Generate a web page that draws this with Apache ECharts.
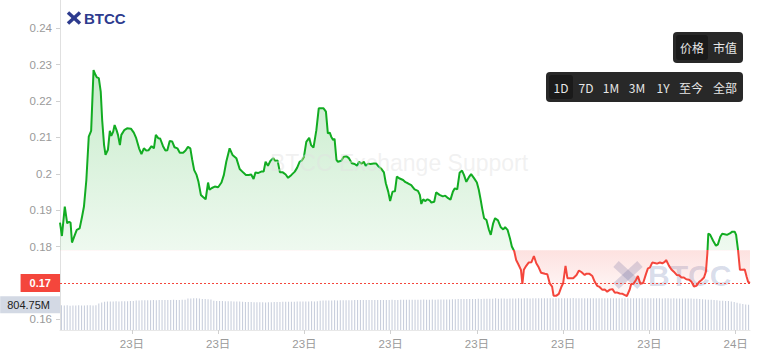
<!DOCTYPE html>
<html><head><meta charset="utf-8">
<script src="https://cdn.jsdelivr.net/npm/echarts@6/dist/echarts.min.js"></script>
<style>html,body{margin:0;padding:0;background:#fff;}#c{width:762px;height:360px;}</style>
</head><body><div id="c"></div>
<script>
// minutes since 23日 00:30
const priceMinutes = [0,4,10,15,19,22,25,31,35,41,46,50,55,60,65,70,74,77,81,85,88,92,95,100,104,107,111,114,118,121,125,128,134,140,148,154,159,165,170,175,180,185,191,196,200,205,209,215,220,224,229,234,239,245,250,257,262,267,272,276,280,285,289,294,298,304,309,312,317,323,330,337,342,347,354,360,368,375,382,388,394,399,404,408,413,420,425,429,434,439,445,449,454,459,465,471,476,483,490,495,500,505,509,514,520,524,529,535,540,545,550,555,559,563,566,570,573,577,580,587,592,598,603,609,615,620,624,629,634,638,643,648,655,660,665,671,676,680,685,689,694,699,703,709,716,721,726,733,740,747,751,754,758,762,767,772,775,781,785,792,799,804,810,815,820,824,829,834,839,843,848,853,858,864,870,874,878,881,885,890,895,899,904,908,914,920,925,929,934,939,943,948,952,957,962,965,968,973,978,984,989,994,999,1004,1012,1017,1022,1027,1030,1036,1041,1046,1050,1055,1059,1064,1071,1078,1083,1088,1095,1098,1105,1111,1116,1121,1126,1132,1137,1142,1147,1153,1158,1162,1168,1174,1178,1183,1189,1192,1197,1202,1206,1211,1217,1223,1227,1231,1236,1241,1246,1252,1257,1262,1265,1271,1276,1281,1287,1292,1297,1302,1307,1313,1318,1323,1328,1334,1339,1344,1348,1351,1353,1357,1363,1369,1373,1378,1382,1387,1392,1398,1403,1408,1411,1415,1419,1424,1429,1433,1436,1440];
const priceValues = [0.1866,0.1829,0.1910,0.1864,0.1868,0.1866,0.1811,0.1832,0.1846,0.1850,0.1882,0.1910,0.1983,0.2102,0.2118,0.2285,0.2272,0.2265,0.2263,0.2226,0.2148,0.2079,0.2052,0.2066,0.2118,0.2104,0.2116,0.2134,0.2120,0.2107,0.2079,0.2107,0.2120,0.2125,0.2124,0.2113,0.2098,0.2070,0.2054,0.2070,0.2064,0.2065,0.2076,0.2070,0.2107,0.2098,0.2097,0.2076,0.2064,0.2065,0.2090,0.2089,0.2073,0.2070,0.2058,0.2058,0.2064,0.2074,0.2070,0.2038,0.2010,0.1997,0.1978,0.1942,0.1937,0.1930,0.1976,0.1956,0.1961,0.1965,0.1963,0.1976,0.1997,0.2033,0.2070,0.2052,0.2043,0.2013,0.2004,0.1997,0.1997,0.1998,0.1986,0.2004,0.2002,0.2006,0.2006,0.2033,0.2022,0.2035,0.2043,0.2035,0.2037,0.2004,0.2004,0.1998,0.1989,0.1997,0.2006,0.2017,0.2033,0.2037,0.2046,0.2088,0.2099,0.2079,0.2072,0.2120,0.2180,0.2180,0.2180,0.2171,0.2111,0.2113,0.2102,0.2093,0.2096,0.2038,0.2033,0.2036,0.2047,0.2048,0.2043,0.2029,0.2027,0.2022,0.2033,0.2028,0.2033,0.2022,0.2028,0.2027,0.2028,0.2028,0.2020,0.2013,0.2004,0.1974,0.1951,0.1925,0.1951,0.1952,0.1992,0.1987,0.1983,0.1977,0.1974,0.1969,0.1957,0.1953,0.1942,0.1917,0.1930,0.1925,0.1930,0.1926,0.1921,0.1923,0.1949,0.1942,0.1938,0.1940,0.1933,0.1929,0.1951,0.1960,0.1957,0.2003,0.2009,0.1997,0.1978,0.1990,0.1999,0.1988,0.1976,0.1956,0.1928,0.1905,0.1878,0.1873,0.1847,0.1832,0.1864,0.1878,0.1872,0.1853,0.1847,0.1853,0.1846,0.1823,0.1800,0.1787,0.1763,0.1750,0.1736,0.1697,0.1736,0.1747,0.1756,0.1757,0.1774,0.1754,0.1743,0.1728,0.1725,0.1724,0.1699,0.1690,0.1665,0.1665,0.1670,0.1688,0.1699,0.1747,0.1713,0.1713,0.1713,0.1722,0.1734,0.1730,0.1722,0.1725,0.1725,0.1719,0.1703,0.1692,0.1689,0.1681,0.1682,0.1676,0.1681,0.1683,0.1673,0.1674,0.1671,0.1670,0.1667,0.1664,0.1682,0.1697,0.1698,0.1708,0.1719,0.1698,0.1700,0.1725,0.1740,0.1742,0.1756,0.1755,0.1753,0.1756,0.1754,0.1758,0.1763,0.1747,0.1737,0.1731,0.1722,0.1721,0.1715,0.1715,0.1710,0.1709,0.1703,0.1690,0.1692,0.1703,0.1708,0.1715,0.1731,0.1781,0.1836,0.1832,0.1816,0.1802,0.1806,0.1827,0.1835,0.1834,0.1832,0.1836,0.1841,0.1841,0.1832,0.1791,0.1736,0.1736,0.1737,0.1717,0.1703,0.1700];
// 24h volume (M), one bar every 6 minutes
const volumeValues = [790,785,792,780,788,784,790,786,782,789,791,786,795,
850,880,
905,910,912,915,918,915,920,922,918,925,928,
945,948,950,952,955,950,958,955,960,957,962,958,960,965,962,960,966,970,
1005,1010,1020,1015,1008,
995,990,985,975,
935,930,925,928,920,922,918,915,912,910,905,900,898,895,890,888,885,887,884,888,890,
895,898,900,902,905,903,906,908,910,912,910,913,915,917,915,918,
940,945,945,948,946,950,948,950,952,950,953,955,
958,960,962,960,958,961,960,963,960,962,959,960,962,965,963,964,966,
968,970,968,972,970,969,971,973,970,972,974,972,975,973,976,978,980,
985,988,990,992,990,994,995,993,996,998,995,1000,998,1002,1000,1015,1003,1005,1008,1004,
1008,1010,1012,1015,1010,1013,1016,1012,1018,1015,
1017,1019,1016,1014,1018,1020,1017,1015,1019,1016,
1018,1020,1021,1018,1016,1019,1017,1020,1018,1015,
1017,1019,1016,1018,1020,1017,1015,1018,1016,1019,
1017,1015,1018,1016,1014,1017,1015,1018,1016,1013,
1015,1017,1014,1012,1016,1014,1011,1013,1010,1012,
1009,1011,1008,1006,1004,1000,995,
985,978,972,965,958,950,
940,935,930,925,915,
895,870,850,835,820,804.75];
const volumeTimes = volumeValues.map(function (_, i) { return i; });
const yTickValues = [0.16,0.17,0.18,0.19,0.2,0.21,0.22,0.23,0.24];
const xTickMinutes = [150,330,510,690,870,1050,1230,1410];
const xTickLabels = ['23日','23日','23日','23日','23日','23日','23日','24日'];
const lastPrice = 0.17;
const lastPriceLabel = '0.17';
const lastVolumeLabel = '804.75M';
const baseline = 0.179;
const priceButtons = ['价格','市值'];
const rangeButtons = ['1D','7D','1M','3M','1Y','至今','全部'];

const GREEN = '#12ac22', RED = '#f4463c';
const FONT = '"Liberation Sans", Arial, "Noto Sans CJK SC", sans-serif';
const CJK = '"Noto Sans CJK SC", "Liberation Sans", sans-serif';
const Y_MIN = 0.15706, Y_MAX = 0.24778;

const chart = echarts.init(document.getElementById('c'), null, {renderer: 'svg'});

const split = (Y_MAX - baseline) / (Y_MAX - Y_MIN);

const rangeX = [561, 586, 611, 637, 663, 691, 725];
const graphics = [
  {type:'text', z:3, silent:true, style:{x:399, y:163, text:'BTCC Exchange Support', align:'center', verticalAlign:'middle', font:'23px ' + FONT, fill:'rgba(225,225,225,0.45)'}},
  {type:'polyline', z:1, silent:true, shape:{points:[[616,264],[640,286]]}, style:{stroke:'rgba(60,80,150,0.2)', lineWidth:8, fill:null}},
  {type:'polyline', z:1, silent:true, shape:{points:[[640,264],[616,286]]}, style:{stroke:'rgba(60,80,150,0.2)', lineWidth:8, fill:null}},
  {type:'text', z:1, silent:true, style:{x:648, y:275, text:'BTCC', align:'left', verticalAlign:'middle', font:'bold 30px ' + FONT, fill:'rgba(60,80,150,0.2)'}},
  {type:'polyline', z:50, silent:true, shape:{points:[[68,12.5],[80,23.5]]}, style:{stroke:'#2d3b8e', lineWidth:3.5, fill:null}},
  {type:'polyline', z:50, silent:true, shape:{points:[[80,12.5],[68,23.5]]}, style:{stroke:'#2d3b8e', lineWidth:3.5, fill:null}},
  {type:'text', z:50, silent:true, style:{x:84, y:18.5, text:'BTCC', align:'left', verticalAlign:'middle', font:'bold 15px ' + FONT, fill:'#2d3b8e'}},
  {type:'rect', z:50, silent:true, shape:{x:673, y:32, width:70, height:31, r:4}, style:{fill:'#282828'}},
  {type:'rect', z:51, silent:true, shape:{x:676, y:35, width:32, height:25, r:3}, style:{fill:'#1a1a1a'}},
  {type:'text', z:52, silent:true, style:{x:692, y:47.5, text:priceButtons[0], align:'center', verticalAlign:'middle', font:'12px ' + CJK, fill:'#e6e6e6'}},
  {type:'text', z:52, silent:true, style:{x:725, y:47.5, text:priceButtons[1], align:'center', verticalAlign:'middle', font:'12px ' + CJK, fill:'#e6e6e6'}},
  {type:'rect', z:50, silent:true, shape:{x:546, y:72, width:197, height:30, r:4}, style:{fill:'#282828'}},
  {type:'rect', z:51, silent:true, shape:{x:549, y:75, width:24, height:24, r:3}, style:{fill:'#1a1a1a'}}
];
rangeButtons.forEach(function (t, i) {
  graphics.push({type:'text', z:52, silent:true, style:{x:rangeX[i], y:87, text:t, align:'center', verticalAlign:'middle', font:'12px ' + CJK, fill:'#e6e6e6'}});
});

const option = {
  animation: false,
  textStyle: {fontFamily: FONT},
  grid: [
    {left:60, right:12, top:0, bottom:30},
    {left:60, right:12, top:280, bottom:30}
  ],
  xAxis: [
    {type:'value', gridIndex:0, min:0, max:1440,
     axisLine:{show:true, lineStyle:{color:'#e8e8e8'}},
     axisTick:{show:true, customValues:xTickMinutes, length:4, lineStyle:{color:'#d0d0d0'}},
     axisLabel:{customValues:xTickMinutes, formatter:function (v) { return xTickLabels[xTickMinutes.indexOf(v)]; }, color:'#9a9a9a', fontSize:11.5, margin:8, fontFamily:FONT},
     splitLine:{show:false}},
    {type:'category', gridIndex:1, data:volumeTimes, show:false, boundaryGap:true}
  ],
  yAxis: [
    {type:'value', gridIndex:0, min:Y_MIN, max:Y_MAX,
     axisLine:{show:true, lineStyle:{color:'#e0e0e0'}},
     axisTick:{show:true, customValues:yTickValues, length:4, lineStyle:{color:'#d0d0d0'}},
     axisLabel:{customValues:yTickValues, color:'#9a9a9a', fontSize:11.5, margin:8, fontFamily:FONT},
     splitLine:{show:false}},
    {type:'value', gridIndex:1, min:0, max:1600, show:false}
  ],
  graphic: graphics,
  series: [
    {type:'bar', xAxisIndex:1, yAxisIndex:1, data:volumeValues, barWidth:1.1, silent:true,
     itemStyle:{color:'#c9cfdd'},
     markLine:{symbol:'none', silent:true, lineStyle:{color:'rgba(0,0,0,0)', width:0},
       label:{position:'start', distance:0, formatter:lastVolumeLabel, backgroundColor:'#d3d9e4', color:'#222', fontSize:11, fontFamily:FONT, padding:[3,10,3,7]},
       data:[{yAxis:volumeValues[volumeValues.length-1]}]}},
    {type:'line', xAxisIndex:0, yAxisIndex:0,
     data: priceMinutes.map(function (m, i) { return [m, priceValues[i]]; }),
     showSymbol:false, symbol:'none', z:2,
     lineStyle:{width:2, color:{type:'linear', x:0, y:0, x2:0, y2:330, global:true, colorStops:[
       {offset:0, color:GREEN}, {offset:split, color:GREEN}, {offset:split + 0.0005, color:RED}, {offset:1, color:RED}]}},
     areaStyle:{origin:baseline, opacity:1, color:{type:'linear', x:0, y:0, x2:0, y2:330, global:true, colorStops:[
       {offset:0, color:'rgba(18,172,34,0.26)'},
       {offset:0.21, color:'rgba(18,172,34,0.24)'},
       {offset:split, color:'rgba(18,172,34,0.07)'},
       {offset:split + 0.0005, color:'rgba(244,70,60,0.16)'},
       {offset:0.9, color:'rgba(244,70,60,0.03)'},
       {offset:1, color:'rgba(244,70,60,0)'}]}},
     markLine:{symbol:'none', silent:true, itemStyle:{color:RED},
       lineStyle:{color:RED, type:[2,2], width:1, opacity:1},
       label:{position:'start', distance:0, formatter:lastPriceLabel, backgroundColor:RED, color:'#fff', fontWeight:'bold', fontSize:11, fontFamily:FONT, padding:[4,9,3,9]},
       data:[{yAxis:lastPrice, lineStyle:{color:RED}}]}}
  ]
};
chart.setOption(option);
</script>
</body></html>
